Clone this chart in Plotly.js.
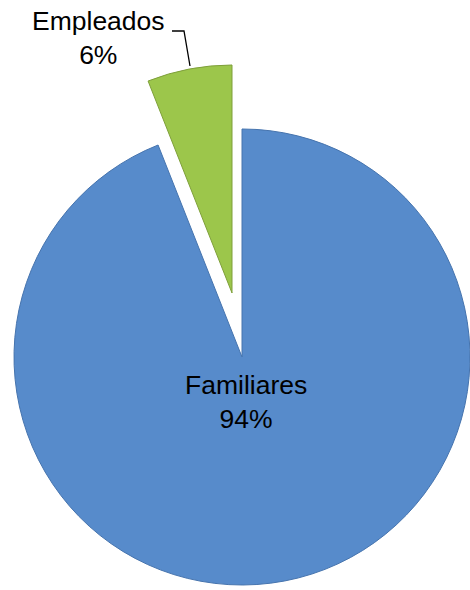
<!DOCTYPE html>
<html>
<head>
<meta charset="utf-8">
<script src="https://cdn.plot.ly/plotly-3.0.1.min.js"></script>
<style>
  html, body { margin: 0; padding: 0; background: #ffffff; overflow: hidden; }
  #chart { width: 470px; height: 590px; }
</style>
</head>
<body>
<div id="chart"></div>
<script>
// Data
const categories = ["Familiares", "Empleados"];
const values = [94, 6];
const sliceColors = ["#578BCB", "#9CC64B"];
const edgeColors = ["#4674AE", "#7E9F3A"];

const W = 470, H = 590;
const total = values.reduce((a, b) => a + b, 0);
const pct = values.map(v => Math.round(v / total * 100) + "%");

// helpers: pixel -> paper
const px = x => x / W;
const py = y => 1 - y / H;

// Main (blue) pie and the exploded (green) slice, drawn as two pie traces
function domainFor(cx, cy, r) {
  return { x: [px(cx - r), px(cx + r)], y: [py(cy + r), py(cy - r)] };
}
const R = 228;

const traceMain = {
  type: "pie",
  labels: categories,
  values: values,
  sort: false,
  direction: "clockwise",
  rotation: 0,
  textinfo: "none",
  hoverinfo: "none",
  marker: {
    colors: [sliceColors[0], "rgba(0,0,0,0)"],
    line: { color: [edgeColors[0], "rgba(0,0,0,0)"], width: 1 }
  },
  domain: domainFor(242, 357, R),
  showlegend: false
};

const traceExploded = {
  type: "pie",
  labels: categories,
  values: values,
  sort: false,
  direction: "clockwise",
  rotation: 0,
  textinfo: "none",
  hoverinfo: "none",
  marker: {
    colors: ["rgba(0,0,0,0)", sliceColors[1]],
    line: { color: ["rgba(0,0,0,0)", edgeColors[1]], width: 1 }
  },
  domain: domainFor(232, 293, R),
  showlegend: false
};

const labelFont = { family: "Liberation Sans, Arial, sans-serif", size: 26.5, color: "#000000" };

const layout = {
  width: W,
  height: H,
  margin: { l: 0, r: 0, t: 0, b: 0 },
  paper_bgcolor: "#ffffff",
  plot_bgcolor: "#ffffff",
  showlegend: false,
  annotations: [
    {
      xref: "paper", yref: "paper",
      x: px(246), y: py(402),
      xanchor: "center", yanchor: "middle",
      text: categories[0] + "<br>" + pct[0],
      showarrow: false,
      font: labelFont
    },
    {
      xref: "paper", yref: "paper",
      x: px(98), y: py(38),
      xanchor: "center", yanchor: "middle",
      text: categories[1] + "<br>" + pct[1],
      showarrow: false,
      font: labelFont
    }
  ],
  shapes: [
    {
      type: "path",
      xref: "paper", yref: "paper",
      path: "M " + px(172) + " " + py(31) + " L " + px(184) + " " + py(31) + " L " + px(190) + " " + py(66),
      line: { color: "#000000", width: 1.3 }
    }
  ]
};

Plotly.newPlot("chart", [traceMain, traceExploded], layout, { displayModeBar: false, staticPlot: true });
</script>
</body>
</html>
